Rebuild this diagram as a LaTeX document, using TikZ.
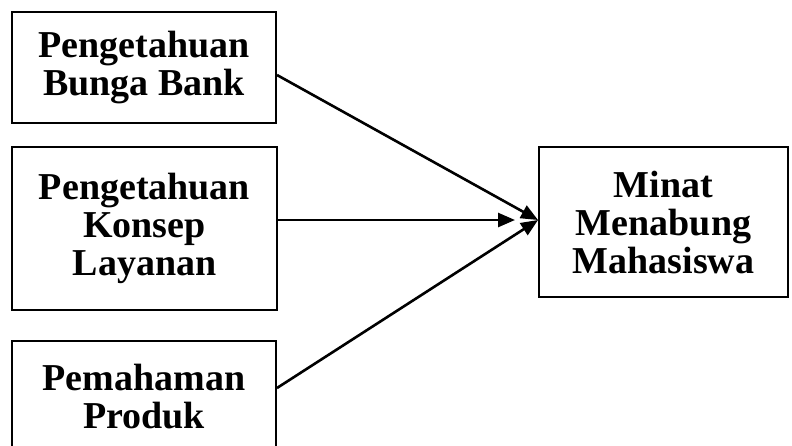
\documentclass[tikz,border=0pt]{standalone}
\usepackage{fontspec}
\setmainfont{Liberation Serif}
\usetikzlibrary{arrows.meta}

\begin{document}
\begin{tikzpicture}[
    x=1pt, y=-1pt,
    line width=2pt,
    every node/.style={font=\bfseries\fontsize{38}{38}\selectfont, align=center},
    varbox/.style={draw, inner sep=0pt},
    link/.style={line width=2.6pt, -{Triangle[length=17pt,width=14pt]}}
]

    % Page frame
    \useasboundingbox (0,0) rectangle (792,445);

    % Independent variables (left)
    \node[varbox, minimum width=264pt, minimum height=111pt] (bunga) at (144,67.5) {Pengetahuan\\Bunga Bank};
    \node[varbox, minimum width=265pt, minimum height=163pt] (konsep) at (144.5,228.5) {Pengetahuan\\Konsep\\Layanan};
    \node[varbox, minimum width=264pt, minimum height=112pt] (produk) at (144,397) {Pemahaman\\Produk};

    % Dependent variable (right)
    \node[varbox, minimum width=249pt, minimum height=150pt] (minat) at (663.5,222) {Minat\\Menabung\\Mahasiswa};

    % Arrow end points
    \coordinate (tip) at ([yshift=2pt]minat.west);
    \coordinate (mid) at ([xshift=-23pt]tip);

    % Draw Arrows
    \draw[link] ([yshift=-7.5pt]bunga.east) -- (tip);
    \draw[link] (konsep.east |- tip) -- (mid);
    \draw[link] ([yshift=9pt]produk.east) -- (tip);

\end{tikzpicture}
\end{document}
